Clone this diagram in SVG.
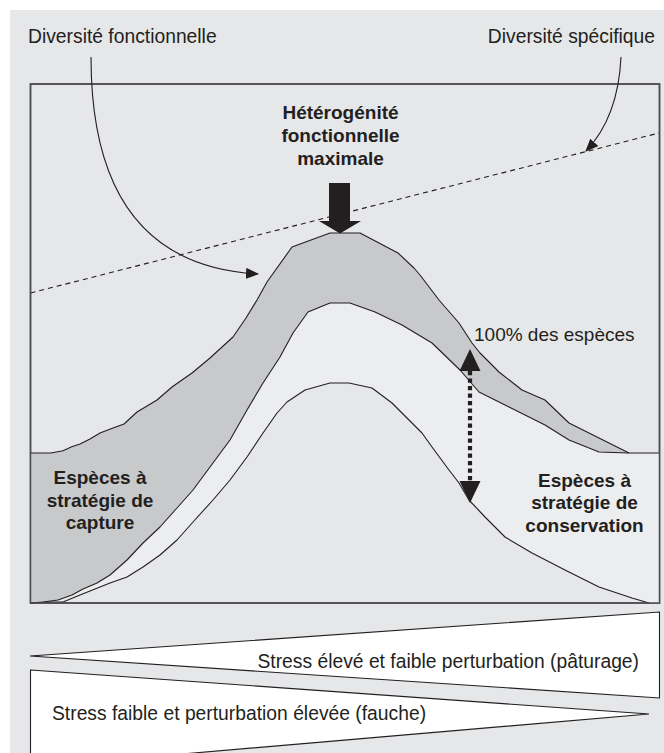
<svg xmlns="http://www.w3.org/2000/svg" width="664" height="753" viewBox="0 0 664 753">
<defs>
<style>
.t{font-family:"Liberation Sans",Arial,sans-serif;fill:#231f20;font-size:19.3px}
.b{font-family:"Liberation Sans",Arial,sans-serif;fill:#231f20;font-size:19px;font-weight:bold;text-anchor:middle}
.crv{fill:none;stroke:#231f20;stroke-width:1.1;stroke-linejoin:round}
.wedge{fill:#ffffff;stroke:#231f20;stroke-width:1.1}
</style>
<marker id="ah" markerWidth="13" markerHeight="11" refX="12" refY="5.5" orient="auto" markerUnits="userSpaceOnUse">
<path d="M0,0 L13,5.5 L0,11 Z" fill="#231f20"/>
</marker>
</defs>
<rect x="0" y="0" width="664" height="753" fill="#ffffff"/>
<rect x="10" y="10" width="654" height="743" fill="#e6e7e9"/>
<g id="plot">
<rect x="30.5" y="84" width="629" height="519" fill="#e6e7e9" stroke="#4d4d4f" stroke-width="1.5"/>
<polygon id="band-middle" fill="#ecedef" stroke="none" points="30.5,603 43,602 58,600 72,595 83,589 97,583 110,575 127,560 143,543 160,527 177,508 193,490 210,467 230,440 247,410 263,383 280,357 293,333 308,312 330,303 350,303 375,312 402,325 432,343 460,370 479,392 509,407 545,425 569,440 599,452 629,453 659,453 659,603 649,603 632,598 599,587 565,570 532,553 505,537 485,517 469,500 459,483 449,470 432,447 422,433 409,420 392,403 372,388 349,383 330,383 305,390 287,402 277,413 263,433 247,457 230,480 213,500 193,522 177,540 160,555 143,567 127,577 110,583 100,587 80,595 63,602 50,602"/>
<polygon id="band-gray" fill="#c8c9cb" stroke="none" points="30.5,453 51,453 63,450.7 71.7,446.7 80,444 90,439 100,433 113,428 124,424 137,412 157,400 172,387 192,373 210,358 233,337 246,318 257,300 267,282 292,247 330,233 360,233 398,253 414,268 420,275 439,300 459,323 472,343 480,353 499,372 522,390 545,400 569,423 599,438 629,453 599,452 569,440 545,425 509,407 479,392 460,370 432,343 402,325 375,312 350,303 330,303 308,312 293,333 280,357 263,383 247,410 230,440 210,467 193,490 177,508 160,527 143,543 127,560 110,575 97,583 83,589 72,595 58,600 43,602 30.5,603"/>
<polyline id="curve-outer" class="crv" points="30.5,453 51,453 63,450.7 71.7,446.7 80,444 90,439 100,433 113,428 124,424 137,412 157,400 172,387 192,373 210,358 233,337 246,318 257,300 267,282 292,247 330,233 360,233 398,253 414,268 420,275 439,300 459,323 472,343 480,353 499,372 522,390 545,400 569,423 599,438 629,453 659,453"/>
<polyline id="curve-inner" class="crv" points="30.5,603 43,602 58,600 72,595 83,589 97,583 110,575 127,560 143,543 160,527 177,508 193,490 210,467 230,440 247,410 263,383 280,357 293,333 308,312 330,303 350,303 375,312 402,325 432,343 460,370 479,392 509,407 545,425 569,440 599,452 629,453"/>
<polyline id="curve-low" class="crv" points="30.5,603 50,602 63,602 80,595 100,587 110,583 127,577 143,567 160,555 177,540 193,522 213,500 230,480 247,457 263,433 277,413 287,402 305,390 330,383 349,383 372,388 392,403 409,420 422,433 432,447 449,470 459,483 469,500 485,517 505,537 532,553 565,570 599,587 632,598 649,603"/>
<line id="dashed-line" x1="30.5" y1="293" x2="659" y2="133" stroke="#231f20" stroke-width="1.1" stroke-dasharray="5,4"/>
<rect x="30.5" y="84" width="629" height="519" fill="none" stroke="#4d4d4f" stroke-width="1.5"/>
</g>
<g id="connectors">
<path d="M91,57 C91,200 150,268 258,274" class="crv" marker-end="url(#ah)"/>
<path d="M621,57 C619,100 606,130 586,151" class="crv" marker-end="url(#ah)"/>
<g id="max-arrow" fill="#231f20">
<rect x="329" y="183" width="21" height="38.5"/>
<polygon points="319,221 361,221 340,233.5"/>
</g>
<g id="range-arrow">
<line x1="470" y1="371" x2="470" y2="482" stroke="#231f20" stroke-width="4.2" stroke-dasharray="4.2,3.3"/>
<polygon points="470,349 459.5,371 480.5,371" fill="#231f20"/>
<polygon points="470,503 459.5,481 480.5,481" fill="#231f20"/>
</g>
</g>
<g id="labels">
<text class="t" x="28" y="43">Diversité fonctionnelle</text>
<text class="t" x="655" y="43" text-anchor="end">Diversité spécifique</text>
<text class="b" x="340.5" y="119">Hétérogénité</text>
<text class="b" x="340.5" y="142">fonctionnelle</text>
<text class="b" x="340.5" y="165">maximale</text>
<text class="t" x="474" y="341" style="font-size:19px">100% des espèces</text>
<text class="b" x="100" y="484">Espèces à</text>
<text class="b" x="100" y="507">stratégie de</text>
<text class="b" x="100" y="529">capture</text>
<text class="b" x="584.5" y="487">Espèces à</text>
<text class="b" x="584.5" y="509">stratégie de</text>
<text class="b" x="584.5" y="532">conservation</text>
</g>
<g id="gradient-wedges">
<polygon class="wedge" points="30,656 659.5,612 659.5,698"/>
<text class="t" x="639" y="668" text-anchor="end">Stress élevé et faible perturbation (pâturage)</text>
<polygon class="wedge" points="30.5,670 649,714 30.5,767"/>
<text class="t" x="52" y="720">Stress faible et perturbation élevée (fauche)</text>
</g>
</svg>
